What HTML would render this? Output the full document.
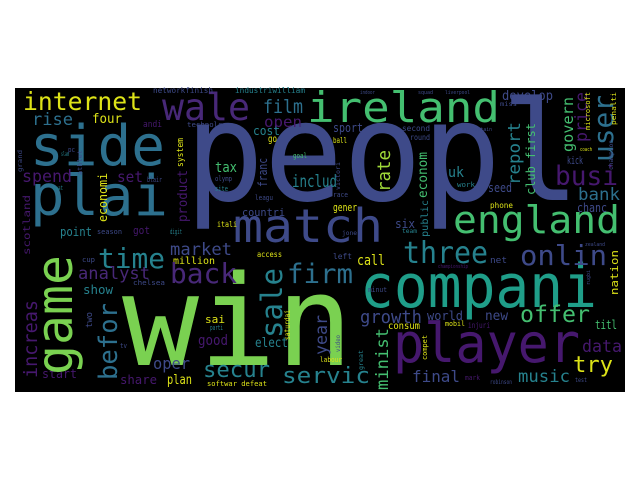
<!DOCTYPE html>
<html><head><meta charset="utf-8"><style>
html,body{margin:0;padding:0;background:#fff;width:640px;height:480px;overflow:hidden}
svg{display:block}
text{font-family:"DejaVu Sans Mono","Liberation Mono",monospace}
</style></head><body>
<svg id="cloud" width="640" height="480" viewBox="0 0 640 480">
<rect x="15" y="88" width="610" height="304" fill="#000"/>
<g id="words"></g>
</svg>
<script>
const PU='#46186e',PV='#482878',SL='#3e4a89',BL='#2d708e',TE='#26828e',TG='#1f9e89',GR='#44bf70',LG='#7ad151',YG='#a0da39',YE='#dde318';
// text, x, baseline y, font size, length, color
const hWords=[
['peopl',185,200,138,395,SL],['win',122,365,126,231,LG],['compani',360,307,60,237,TG],['player',393,362,54,187,PU],
['england',453,233,38,167,GR],['ireland',307,122,42,193,GR],['match',233,242,46,150,SL],['side',30,165,56,135,BL],
['plai',30,215,56,138,BL],['wale',162,120,37,88,PV],['internet',23,110,25,119,YE],['film',263,113,19,40,BL],
['open',264,127,15,38,PU],['rise',32,125,17,41,BL],['four',92,123,13,30,YE],['andi',143,127,9,19,PU],
['cost',253,135,12,27,TE],['go',268,142,10,9,YE],['networkfinish',153,93,8,60,SL],['industriwilliam',235,93,8,70,TE],
['technolog',187,127,7,40,SL],['tax',215,172,14,22,GR],['includ',292,187,17,45,TE],['spend',22,182,17,50,PU],
['set',117,182,15,26,PU],['countri',242,216,11,43,SL],['itali',217,227,8,20,YE],['point',60,236,12,32,TE],
['got',133,234,11,17,PU],['digit',170,234,7,12,TE],['season',97,234,7,25,SL],['pc',68,152,7,7,SL],
['slam',61,156,6,8,TE],['beat',53,190,6,10,TE],['blair',147,182,7,15,SL],['olymp',215,181,7,17,SL],
['site',215,191,7,13,TE],['leagu',255,200,7,18,SL],['goal',293,158,7,14,GR],['desk',297,127,5,7,SL],
['develop',502,100,13,51,SL],['miss',500,106,6,17,SL],['sport',333,132,12,30,SL],['second',402,131,8,28,SL],
['round',410,140,8,20,SL],['ball',333,143,8,14,YE],['uk',448,177,14,16,TE],['work',457,187,7,18,TE],
['seed',488,192,12,24,SL],['kick',567,164,11,16,SL],['busi',555,185,27,63,PU],['bank',578,200,17,42,BL],
['chanc',577,212,12,30,SL],['phone',490,208,8,23,YE],['gener',333,211,11,24,YE],['race',333,197,7,15,SL],
['six',395,228,12,20,SL],['jone',342,235,6,15,SL],['team',402,233,6,15,TE],['indoor',360,94,5,15,SL],
['squad',418,94,5,15,SL],['liverpool',445,94,5,25,SL],['captain',472,131,5,20,SL],['coach',580,151,5,12,YE],
['time',98,268,28,67,TE],['market',170,255,17,62,SL],['million',173,264,10,42,YE],['back',170,283,28,67,PV],
['analyst',78,279,17,72,PV],['show',83,294,12,30,TE],['chelsea',133,285,7,32,SL],['cup',82,262,7,13,SL],
['access',257,257,8,25,YE],['sai',205,323,11,20,YE],['parti',210,330,7,13,TE],['good',198,345,14,30,PU],
['tv',120,348,7,7,SL],['oper',153,369,16,37,SL],['secur',203,377,22,67,TE],['share',120,384,12,37,PU],
['plan',167,384,13,25,YE],['start',42,378,12,35,PU],['softwar defeat',207,386,7,60,YE],['elect',255,347,13,33,TE],
['firm',287,283,27,66,BL],['servic',282,383,22,88,TE],['three',403,263,30,85,TE],['call',357,265,14,28,YE],
['left',333,259,8,19,SL],['net',490,263,9,17,SL],['onlin',520,265,28,87,SL],['minut',368,292,7,19,SL],
['growth',360,323,18,62,SL],['world',427,320,12,36,SL],['new',485,320,13,23,SL],['offer',520,322,23,70,GR],
['titl',595,329,12,22,GR],['consum',388,329,10,32,YE],['mobil',445,326,7,20,YE],['injuri',468,328,8,22,PU],
['data',582,352,17,40,PU],['try',573,372,22,40,YE],['final',412,382,16,48,SL],['music',518,382,17,52,TE],
['mark',465,380,7,15,PU],['robinson',490,384,6,22,SL],['test',575,382,6,12,SL],['championship',438,268,5,30,PU],
['zealand',585,246,5,20,SL],['labour',320,362,7,22,YE]
];
// text, baseline x, bottom y, font size, length, color (rotated -90)
const vWords=[
['game',72,375,50,120,LG],['increas',37,378,19,78,PU],['befor',117,380,26,77,BL],['two',92,328,9,16,SL],
['saturdai',290,340,8,30,YE],['sale',282,338,29,70,TE],['year',327,355,17,40,SL],['minist',388,390,17,62,GR],
['rate',390,192,18,42,YG],['econom',427,198,13,46,GR],['public',428,237,10,37,TE],['report',520,185,17,63,TE],
['club first',535,195,12,72,GR],['govern',573,152,15,55,GR],['price',587,142,17,50,PU],['user',613,162,28,67,BL],
['microsoft',590,130,7,38,YE],['penalti',616,125,7,33,YE],['champion',613,170,6,30,SL],['franc',267,187,12,29,SL],
['economi',107,222,12,49,YE],['product',187,222,13,52,PU],['system',183,167,9,29,YE],['scotland',30,255,10,60,PU],
['grand',22,172,6,22,SL],['athlet',82,175,6,25,SL],['victori',340,190,6,28,SL],['nation',618,295,11,45,YE],
['rugbi',590,285,5,15,SL],['compet',427,360,7,25,YE],['great',363,370,6,20,TE],['video',340,352,6,17,SL]
];
const NS='http://www.w3.org/2000/svg';
const g=document.getElementById('words');
function mk(w,rot){
  const t=document.createElementNS(NS,'text');
  t.textContent=w[0];
  t.setAttribute('font-size',w[3]);
  t.setAttribute('fill',w[5]);
  t.setAttribute('textLength',w[4]);
  t.setAttribute('lengthAdjust','spacingAndGlyphs');
  if(rot){t.setAttribute('x',0);t.setAttribute('y',0);t.setAttribute('transform','translate('+w[1]+','+w[2]+') rotate(-90)');}
  else{t.setAttribute('x',w[1]);t.setAttribute('y',w[2]);}
  
  
  g.appendChild(t);
}
hWords.forEach(w=>mk(w,false));
vWords.forEach(w=>mk(w,true));
</script>
</body></html>
